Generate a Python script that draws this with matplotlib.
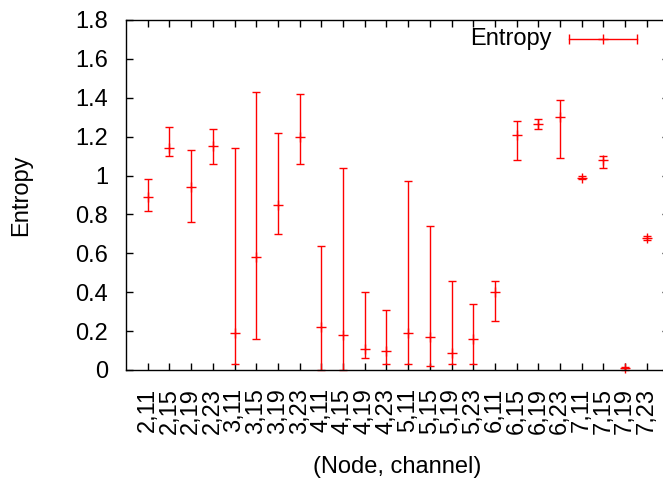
import matplotlib
matplotlib.use('Agg')
import matplotlib.pyplot as plt
from matplotlib.lines import Line2D
from matplotlib.ticker import FuncFormatter

plt.rcParams['font.family'] = ['Liberation Sans', 'DejaVu Sans']

# (node, channel) categories
labels = ['2,11', '2,15', '2,19', '2,23', '3,11', '3,15', '3,19', '3,23',
          '4,11', '4,15', '4,19', '4,23', '5,11', '5,15', '5,19', '5,23',
          '6,11', '6,15', '6,19', '6,23', '7,11', '7,15', '7,19', '7,23']
entropy = [0.89, 1.14, 0.94, 1.15, 0.19, 0.58, 0.85, 1.20,
           0.22, 0.18, 0.11, 0.10, 0.19, 0.17, 0.09, 0.16,
           0.40, 1.21, 1.265, 1.30, 0.99, 1.08, 0.008, 0.68]
low = [0.82, 1.10, 0.76, 1.06, 0.03, 0.16, 0.70, 1.06,
       0.0, 0.0, 0.06, 0.03, 0.03, 0.02, 0.03, 0.03,
       0.25, 1.08, 1.24, 1.09, 0.983, 1.04, 0.0, 0.667]
high = [0.98, 1.25, 1.13, 1.24, 1.14, 1.43, 1.22, 1.42,
        0.64, 1.04, 0.40, 0.31, 0.97, 0.74, 0.46, 0.34,
        0.46, 1.28, 1.29, 1.39, 1.0, 1.10, 0.015, 0.69]

W, H = 663, 483
fig = plt.figure(figsize=(W / 100, H / 100), dpi=100)
ax = fig.add_axes([126 / W, 113 / H, 542.5 / W, 350 / H])

x = list(range(1, len(labels) + 1))
err_lo = [m - l for m, l in zip(entropy, low)]
err_hi = [h - m for m, h in zip(entropy, high)]
ax.errorbar(x, entropy, yerr=[err_lo, err_hi], fmt='+', color='red',
            ms=7, mew=1, elinewidth=1, capsize=3, capthick=1, clip_on=False)

ax.set_xlim(0, len(labels) + 1)
ax.set_ylim(0, 1.8)
ax.set_xticks(x)
ax.set_xticklabels(labels, rotation=90, ha='center', va='top')
ax.set_yticks([i * 0.2 for i in range(10)])
ax.yaxis.set_major_formatter(FuncFormatter(lambda v, p: '%g' % round(v, 1)))

ax.tick_params(direction='in', length=5, width=1, labelsize=17,
               top=True, right=True, color='black')
ax.tick_params(axis='x', pad=13)
ax.tick_params(axis='y', pad=13)
for s in ax.spines.values():
    s.set_linewidth(1)

ax.set_ylabel('Entropy', fontsize=17, labelpad=0)
ax.yaxis.set_label_coords(-94 / 542.5, 0.5)
ax.set_xlabel('(Node, channel)', fontsize=17)
ax.xaxis.set_label_coords(0.5, -86 / 350)

# legend drawn like gnuplot's key
ly = 1 - 39 / H
fig.text(552 / W, ly, 'Entropy', ha='right', va='center', fontsize=17)
fig.add_artist(Line2D([569 / W, 637 / W], [ly, ly], color='red', lw=1))
fig.add_artist(Line2D([569 / W, 637 / W], [ly, ly], color='red', lw=0,
                      marker='|', ms=7, mew=1))
fig.add_artist(Line2D([603 / W], [ly], color='red', marker='+', ms=7, mew=1))

fig.savefig('out.png', dpi=100)
